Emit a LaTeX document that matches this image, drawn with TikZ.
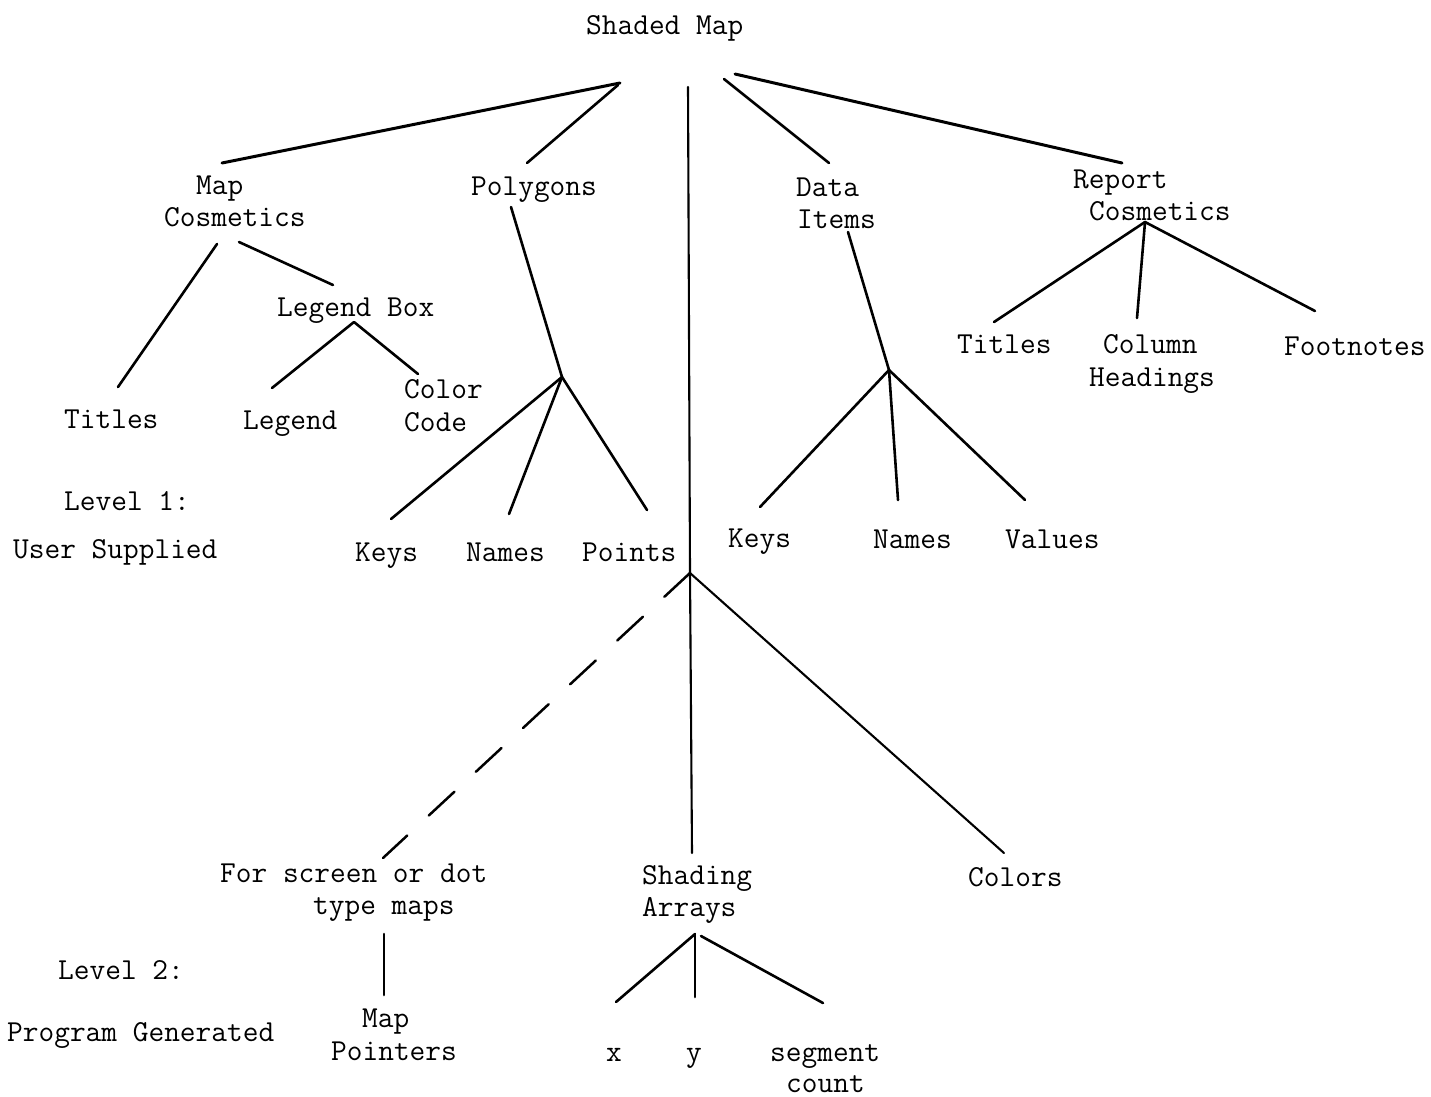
\documentclass[tikz,border=0pt]{standalone}
\usepackage{fontspec}
\begin{document}
\begin{tikzpicture}[x=1pt,y=-1pt,
  lbl/.style={anchor=base west, inner sep=0pt,
    font=\ttfamily\fontsize{30.5}{32}\selectfont\addfontfeatures{FakeBold=1}},
  link/.style={line width=2.6pt, line cap=round},
  heavy link/.style={line width=3pt, line cap=round},
  thin link/.style={line width=2.1pt, line cap=round},
  dash link/.style={line width=2.5pt, line cap=round,
    dash pattern=on 35pt off 29.3pt}]
\useasboundingbox (0,0) rectangle (1431,1096);
\fill[white] (0,0) rectangle (1431,1096);

% ---- labels ----
\node[lbl] (root) at (586,34) {Shaded Map};
\node[lbl] (mapc1) at (196,194) {Map};
\node[lbl] (mapc2) at (164,226) {Cosmetics};
\node[lbl] (poly) at (471,195) {Polygons};
\node[lbl] (data1) at (796,196) {Data};
\node[lbl] (data2) at (797,228) {Items};
\node[lbl] (repc1) at (1073,188) {Report};
\node[lbl] (repc2) at (1089,220) {Cosmetics};
\node[lbl] (lbox) at (277,316) {Legend Box};
\node[lbl] (mtitles) at (64,428) {Titles};
\node[lbl] (legend) at (243,429) {Legend};
\node[lbl] (ccode1) at (404,398) {Color};
\node[lbl] (ccode2) at (404,431) {Code};
\node[lbl] (lev1a) at (64,510) {Level 1:};
\node[lbl] (lev1b) at (13,558) {User Supplied};
\node[lbl] (pkeys) at (355,561) {Keys};
\node[lbl] (pnames) at (466,561) {Names};
\node[lbl] (ppoints) at (582,561) {Points};
\node[lbl] (rtitles) at (957,353) {Titles};
\node[lbl] (colh1) at (1103,353) {Column};
\node[lbl] (colh2) at (1089,386) {Headings};
\node[lbl] (foot) at (1284,355) {Footnotes};
\node[lbl] (dkeys) at (728,547) {Keys};
\node[lbl] (dnames) at (873,548) {Names};
\node[lbl] (dvalues) at (1005,548) {Values};
\node[lbl] (scr1) at (220,882) {For screen or dot};
\node[lbl] (scr2) at (313,914) {type maps};
\node[lbl] (shad1) at (642,884) {Shading};
\node[lbl] (shad2) at (642,916) {Arrays};
\node[lbl] (colors) at (968,886) {Colors};
\node[lbl] (lev2a) at (58,979) {Level 2:};
\node[lbl] (lev2b) at (7,1041) {Program Generated};
\node[lbl] (mptr1) at (362,1027) {Map};
\node[lbl] (mptr2) at (331,1060) {Pointers};
\node[lbl] (ax) at (606,1061) {x};
\node[lbl] (ay) at (686,1061) {y};
\node[lbl] (seg1) at (770,1061) {segment};
\node[lbl] (seg2) at (786,1092) {count};

% ---- line ends and branch points ----
\coordinate (root-l1) at (620,83);
\coordinate (root-l2) at (618,85);
\coordinate (root-v) at (688,87);
\coordinate (root-r1) at (724,79);
\coordinate (root-r2) at (735,74);
\coordinate (mapc-top) at (222,163);
\coordinate (poly-top) at (527,163);
\coordinate (data-top) at (829,163);
\coordinate (repc-top) at (1122,163);
\coordinate (mapc-a) at (217,244);
\coordinate (mapc-b) at (239,242);
\coordinate (mtitles-top) at (118,387);
\coordinate (lbox-top) at (333,285);
\coordinate (lbox-br) at (354,322);
\coordinate (legend-top) at (272,388);
\coordinate (ccode-top) at (418,374);
\coordinate (poly-bot) at (511,207);
\coordinate (poly-br) at (562,377);
\coordinate (pkeys-top) at (391,519);
\coordinate (pnames-top) at (509,514);
\coordinate (ppoints-top) at (647,510);
\coordinate (data-bot) at (848,232);
\coordinate (data-br) at (889,370);
\coordinate (dkeys-top) at (760,507);
\coordinate (dnames-top) at (898,500);
\coordinate (dvalues-top) at (1025,500);
\coordinate (repc-br) at (1145,222);
\coordinate (rtitles-top) at (994,322);
\coordinate (colh-top) at (1137,318);
\coordinate (foot-top) at (1315,311);
\coordinate (pts-br) at (690,573);
\coordinate (shad-top) at (692,853);
\coordinate (colors-top) at (1004,853);
\coordinate (scr-top) at (383,858);
\coordinate (scr-bot) at (384,934);
\coordinate (mptr-top) at (384,995);
\coordinate (shad-br) at (695,934);
\coordinate (seg-start) at (701,936);
\coordinate (ax-top) at (616,1002);
\coordinate (ay-top) at (695,997);
\coordinate (seg-top) at (823,1003);

% ---- level 1 tree ----
\draw[heavy link] (root-l1) -- (mapc-top);
\draw[link] (root-l2) -- (poly-top);
\draw[link] (root-r1) -- (data-top);
\draw[heavy link] (root-r2) -- (repc-top);

\draw[link] (mapc-a) -- (mtitles-top);
\draw[link] (mapc-b) -- (lbox-top);
\draw[link] (lbox-br) -- (legend-top);
\draw[link] (lbox-br) -- (ccode-top);

\draw[link] (poly-bot) -- (poly-br);
\draw[link] (poly-br) -- (pkeys-top);
\draw[link] (poly-br) -- (pnames-top);
\draw[link] (poly-br) -- (ppoints-top);

\draw[link] (data-bot) -- (data-br);
\draw[link] (data-br) -- (dkeys-top);
\draw[link] (data-br) -- (dnames-top);
\draw[link] (data-br) -- (dvalues-top);

\draw[link] (repc-br) -- (rtitles-top);
\draw[link] (repc-br) -- (colh-top);
\draw[link] (repc-br) -- (foot-top);

% ---- level 2 tree ----
\draw[thin link] (root-v) -- (pts-br) -- (shad-top);
\draw[thin link] (pts-br) -- (colors-top);
\draw[dash link] (pts-br) -- (scr-top);
\draw[link] (scr-bot) -- (mptr-top);
\draw[link] (shad-br) -- (ax-top);
\draw[link] (shad-br) -- (ay-top);
\draw[link] (seg-start) -- (seg-top);
\end{tikzpicture}
\end{document}
